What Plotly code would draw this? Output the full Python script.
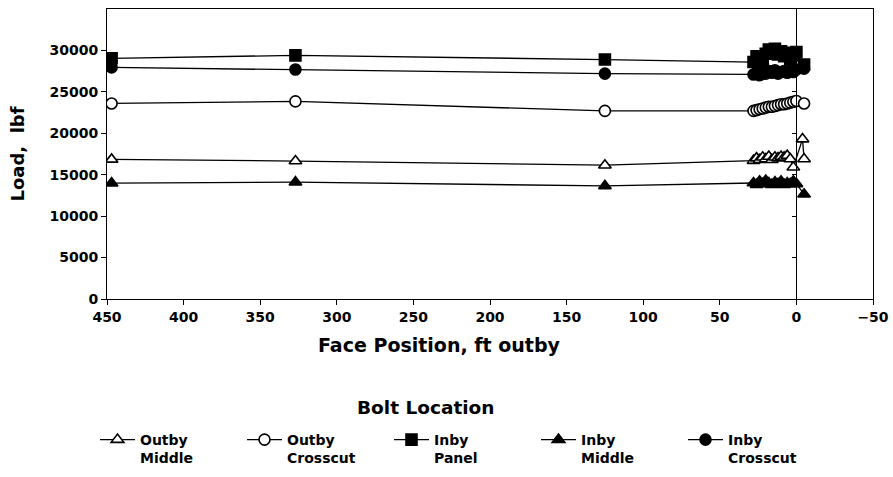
import plotly.graph_objects as go

# ---- data ----
face_pos = [447, 327, 125, 28, 26, 24, 22, 20, 18, 16, 14, 12, 10, 8, 6, 4, 2, 0, -5]

outby_middle_x = [447, 327, 125, 28, 26, 24, 22, 20, 18, 16, 14, 12, 10, 8, 6, 4, 2, -4, -5]
outby_middle = [16850, 16650, 16150, 16700, 17000, 16800, 17100, 16900, 17200, 16800, 17100,
                17000, 17200, 17100, 17300, 16900, 15900, 19300, 16900]

outby_crosscut = [23600, 23850, 22700, 22700, 22800, 22900, 23000, 23100, 23200, 23200, 23300,
                  23400, 23500, 23500, 23600, 23700, 23800, 23900, 23600]

inby_panel = [29050, 29400, 28900, 28600, 29300, 29000, 28700, 29600, 30100, 29800, 30200,
              29500, 29900, 29300, 29700, 29000, 29400, 29800, 28300]

inby_middle = [13980, 14100, 13650, 14000, 13800, 14200, 13900, 14300, 14000, 13800, 14100,
               13900, 14200, 13800, 14000, 13900, 14200, 13900, 12650]

inby_crosscut = [27950, 27700, 27200, 27100, 27300, 27000, 27400, 27200, 27500, 27300, 27600,
                 27200, 27400, 27500, 27300, 27600, 27400, 27700, 27800]

series_names = ["Outby<br>Middle", "Outby<br>Crosscut", "Inby<br>Panel", "Inby<br>Middle", "Inby<br>Crosscut"]
y_ticks = [0, 5000, 10000, 15000, 20000, 25000, 30000]

FONT = "DejaVu Sans, Liberation Sans, Arial, sans-serif"
W, H = 893, 477
ML, MR, MT, MB = 107, 20, 9, 178

fig = go.Figure()

def add(name, x, y, symbol, size, fill=True):
    fig.add_trace(go.Scatter(
        x=x, y=y, name=name, mode="lines+markers",
        line=dict(color="black", width=1.3),
        marker=dict(symbol=symbol, size=size,
                    color="black" if fill else "white",
                    line=dict(color="black", width=1.6)),
    ))

add(series_names[0], outby_middle_x, outby_middle, "triangle-up", 11, fill=False)
add(series_names[1], face_pos, outby_crosscut, "circle", 11, fill=False)
add(series_names[2], face_pos, inby_panel, "square", 11, fill=True)
add(series_names[3], face_pos, inby_middle, "triangle-up", 11, fill=True)
add(series_names[4], face_pos, inby_crosscut, "circle", 11, fill=True)

pw = W - ML - MR
ph = H - MT - MB

def px_x(px):
    return (px - ML) / pw

def px_y(py):
    return (H - MB - py) / ph

fig.update_layout(
    width=W, height=H,
    margin=dict(l=ML, r=MR, t=MT, b=MB, autoexpand=False),
    paper_bgcolor="white", plot_bgcolor="white",
    font=dict(family=FONT, color="black", size=13, weight=700),
    showlegend=True,
    legend=dict(orientation="h", xref="container", yref="container",
                x=95 / W, xanchor="left", y=(H - 424) / H, yanchor="top",
                entrywidth=97, entrywidthmode="pixels", valign="top",
                font=dict(family=FONT, size=14, color="black", weight=700),
                itemwidth=35, tracegroupgap=0, bgcolor="rgba(0,0,0,0)"),
    xaxis=dict(range=[450, -50], tickmode="linear", tick0=450, dtick=50,
               showgrid=False, zeroline=False, showline=True, linecolor="black",
               linewidth=1, mirror=True, ticks="outside", ticklen=5, tickcolor="black",
               automargin=False,
               tickfont=dict(family=FONT, size=14, weight=700)),
    yaxis=dict(range=[0, 35000], tickvals=y_ticks, tickformat="d",
               showgrid=False, zeroline=False, showline=True, linecolor="black",
               linewidth=1, mirror=True, ticks="outside", ticklen=5, tickcolor="black",
               automargin=False,
               tickfont=dict(family=FONT, size=14, weight=700),
               title=dict(text="Load,  lbf", standoff=20,
                          font=dict(family=FONT, size=18, weight=700))),
    yaxis2=dict(range=[0, 35000], overlaying="y", anchor="free", position=px_x(796),
                tickvals=y_ticks,
                showticklabels=False, showgrid=False, zeroline=False,
                showline=True, linecolor="black", linewidth=1.2,
                ticks="outside", ticklen=4, tickcolor="black"),
    annotations=[
        dict(text="Face Position, ft outby", x=px_x(439), y=px_y(345),
             xref="paper", yref="paper", xanchor="center", yanchor="middle",
             showarrow=False, font=dict(family=FONT, size=19, weight=700)),
        dict(text="Bolt Location", x=px_x(425), y=px_y(407),
             xref="paper", yref="paper", xanchor="center", yanchor="middle",
             showarrow=False, font=dict(family=FONT, size=18.5, weight=700)),
    ],
)

# invisible trace on yaxis2 so the axis at x=0 is drawn
fig.add_trace(go.Scatter(x=[None], y=[None], yaxis="y2", showlegend=False))

fig.write_html("out.html", post_script="document.body.style.margin='0px';",
               config={"displayModeBar": False})
